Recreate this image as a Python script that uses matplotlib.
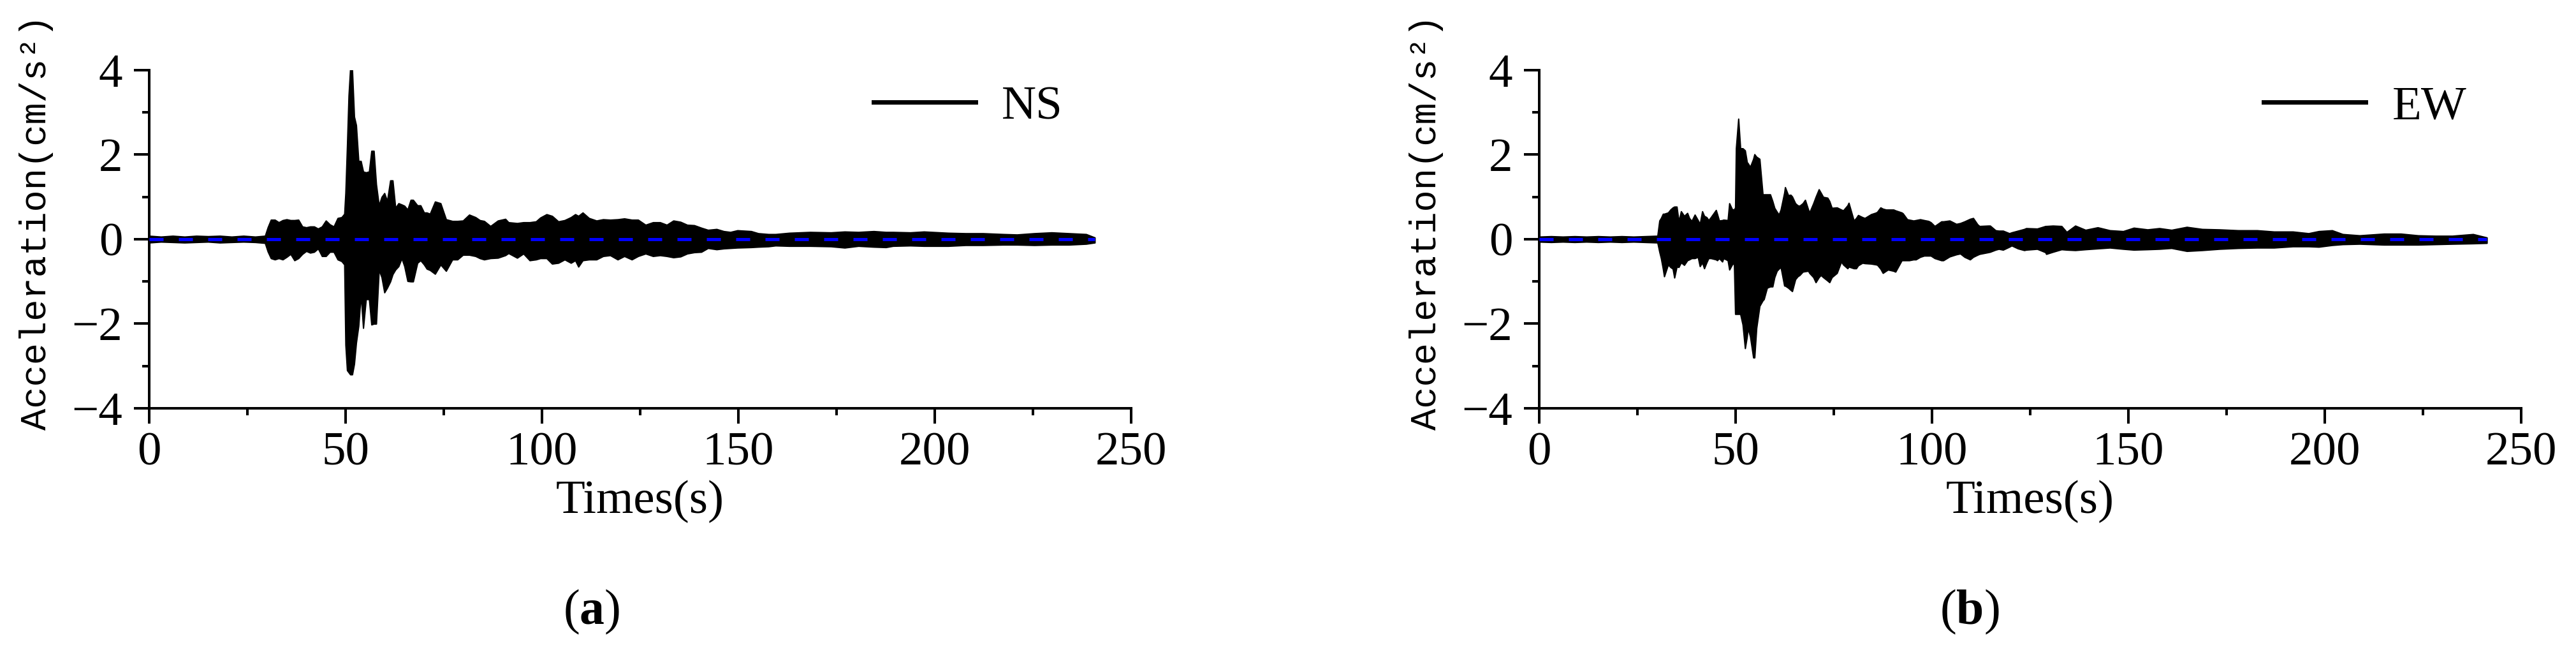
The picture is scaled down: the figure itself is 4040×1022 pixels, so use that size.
import matplotlib.pyplot as plt
from matplotlib.lines import Line2D
from matplotlib.ticker import MultipleLocator


# envelope of the NS record: time (s), upper and lower peaks (cm/s^2)
ns_t = [0, 3, 6, 9, 12, 15, 18, 21, 24, 27, 29.5, 30.2, 31, 32, 33, 34, 35, 36, 37, 38,
        39, 40, 41, 42, 43, 44, 45, 46, 47, 48, 49, 49.7, 50.0, 50.4, 50.8, 51.2, 51.7,
        52.2, 52.7, 53.3, 53.9, 54.5, 55.2, 56.0, 56.6, 57.2, 57.8, 58.5, 59.2, 59.9,
        60.6, 61.4, 62.0, 62.7, 63.5, 64.3, 65.0, 65.8, 66.6, 67.2, 68.3, 69.1, 70.0,
        70.7, 71.5, 72.8, 74.2, 75.6, 77.2, 78.5, 79.9, 81.5, 83.1, 84.2, 85.3, 86.9,
        88.8, 90.7, 91.5, 93.7, 95.3, 96.9, 98.5, 99.6, 101.2, 102.6, 104.2, 105.8,
        107.4, 108.5, 109.3, 110.4, 112.0, 113.9, 115.6, 117.4, 119.3, 121.0, 122.9,
        124.5, 126.4, 128.3, 130.1, 131.8, 133.5, 135.3, 137.0, 138.8, 140.6, 142.3,
        144.5, 146.3, 148.0, 149.8, 153.3, 155.1, 157.7, 159.5, 163.0, 168.3, 173.6,
        177.1, 180.6, 184.5, 187.6, 189.4, 193.8, 197.3, 203.5, 207.9, 212.3, 217.5,
        221.0, 225.4, 229.8, 234.2, 238.6, 240.8]
ns_hi = [0.08, 0.06, 0.08, 0.06, 0.08, 0.07, 0.08, 0.06, 0.08, 0.06, 0.08, 0.28, 0.46,
         0.46, 0.40, 0.45, 0.47, 0.45, 0.45, 0.46, 0.30, 0.28, 0.30, 0.30, 0.25, 0.30,
         0.44, 0.35, 0.30, 0.50, 0.52, 0.60, 1.10, 2.20, 3.40, 4.03, 4.00, 2.90, 2.70,
         1.85, 1.85, 1.60, 1.58, 1.60, 2.09, 2.09, 1.30, 0.80, 1.00, 1.09, 0.90, 1.39,
         1.39, 0.74, 0.85, 0.82, 0.79, 0.70, 0.93, 0.93, 0.80, 0.80, 0.63, 0.63, 0.60,
         0.89, 0.85, 0.47, 0.43, 0.43, 0.44, 0.58, 0.52, 0.45, 0.43, 0.31, 0.44, 0.48,
         0.40, 0.38, 0.40, 0.40, 0.42, 0.51, 0.59, 0.55, 0.42, 0.45, 0.52, 0.59, 0.55,
         0.63, 0.50, 0.44, 0.47, 0.46, 0.47, 0.49, 0.46, 0.46, 0.34, 0.40, 0.40, 0.34,
         0.44, 0.41, 0.34, 0.33, 0.27, 0.22, 0.24, 0.19, 0.17, 0.21, 0.19, 0.14, 0.12,
         0.12, 0.15, 0.17, 0.16, 0.18, 0.17, 0.19, 0.17, 0.17, 0.16, 0.18, 0.15, 0.14,
         0.14, 0.12, 0.11, 0.14, 0.16, 0.14, 0.12, 0.04]
ns_lo = [-0.08, -0.06, -0.07, -0.08, -0.07, -0.06, -0.08, -0.07, -0.06, -0.07, -0.09,
         -0.29, -0.45, -0.48, -0.45, -0.48, -0.42, -0.35, -0.50, -0.45, -0.35, -0.28,
         -0.32, -0.30, -0.22, -0.40, -0.40, -0.30, -0.30, -0.48, -0.52, -0.60, -2.50,
         -3.10, -3.15, -3.20, -3.20, -2.95, -2.45, -2.05, -1.30, -2.10, -1.42, -1.42,
         -2.02, -2.00, -2.00, -0.72, -0.90, -1.26, -1.15, -1.00, -0.83, -0.72, -0.64,
         -0.45, -0.64, -0.99, -1.00, -1.00, -0.56, -0.50, -0.60, -0.70, -0.73, -0.82,
         -0.60, -0.75, -0.48, -0.48, -0.37, -0.37, -0.40, -0.45, -0.48, -0.45, -0.44,
         -0.38, -0.33, -0.44, -0.34, -0.50, -0.48, -0.45, -0.45, -0.58, -0.56, -0.48,
         -0.56, -0.50, -0.65, -0.50, -0.48, -0.48, -0.40, -0.38, -0.48, -0.40, -0.48,
         -0.40, -0.34, -0.40, -0.38, -0.40, -0.43, -0.41, -0.34, -0.31, -0.30, -0.21,
         -0.24, -0.22, -0.21, -0.20, -0.19, -0.18, -0.17, -0.15, -0.16, -0.16, -0.17,
         -0.20, -0.16, -0.18, -0.19, -0.16, -0.15, -0.16, -0.16, -0.14, -0.14, -0.13,
         -0.13, -0.14, -0.13, -0.13, -0.11, -0.08]

# envelope of the EW record
ew_t = [0, 3, 6, 9, 12, 15, 18, 21, 24, 27, 30.1, 30.6, 31.0, 31.5, 31.8, 32.8, 33.4,
        34.0, 34.4, 35.0, 35.5, 36.1, 36.9, 37.7, 38.2, 38.8, 39.6, 40.4, 40.9, 41.5,
        42.0, 42.6, 43.1, 43.7, 45.0, 45.3, 45.8, 46.6, 46.9, 48.0, 48.4, 49.1, 49.6,
        49.9, 50.1, 50.7, 51.2, 51.8, 52.4, 52.9, 53.1, 53.7, 54.5, 54.8, 55.3, 56.1,
        56.9, 57.2, 58.0, 58.8, 59.4, 59.9, 60.5, 61.0, 61.5, 62.4, 62.6, 63.4, 64.0,
        64.4, 65.2, 65.8, 66.3, 67.1, 67.7, 68.5, 68.8, 69.8, 70.4, 71.2, 71.7, 72.3,
        73.4, 73.9, 74.5, 75.8, 76.9, 77.4, 78.5, 78.8, 80.1, 80.7, 81.2, 82.3, 82.9,
        84.5, 85.8, 86.1, 86.9, 87.5, 88.3, 88.8, 90.2, 90.7, 92.3, 92.6, 93.7, 94.2,
        95.3, 95.9, 97.0, 98.0, 99.1, 99.7, 100.7, 102.4, 102.9, 104.5, 106.2, 107.2,
        108.3, 109.7, 110.5, 111.6, 112.1, 114.3, 114.8, 116.2, 117.0, 118.1, 119.7,
        120.3, 121.9, 123.5, 124.0, 126.8, 128.9, 129.1, 130.8, 133.0, 134.3, 136.5,
        139.1, 142.2, 145.3, 148.7, 151.4, 154.9, 157.9, 161.0, 164.9, 168.8, 173.2,
        178.0, 182.8, 187.1, 191.9, 195.9, 198.5, 201.9, 204.6, 208.9, 215.1, 219.4,
        223.8, 228.2, 232.5, 237.8, 241.3]
ew_hi = [0.06, 0.07, 0.06, 0.07, 0.06, 0.07, 0.06, 0.07, 0.06, 0.07, 0.08, 0.44, 0.50,
         0.60, 0.60, 0.63, 0.70, 0.75, 0.77, 0.77, 0.42, 0.66, 0.55, 0.62, 0.50, 0.43,
         0.58, 0.45, 0.36, 0.66, 0.55, 0.52, 0.45, 0.52, 0.69, 0.60, 0.44, 0.45, 0.46,
         0.45, 0.85, 0.71, 0.70, 0.75, 2.15, 2.85, 2.15, 2.15, 2.10, 1.82, 1.80, 1.71,
         1.90, 2.01, 1.95, 1.90, 1.06, 1.06, 1.06, 1.06, 0.90, 0.74, 0.65, 0.58, 0.70,
         1.10, 1.23, 1.04, 1.05, 1.01, 0.85, 0.80, 0.79, 0.85, 0.93, 0.70, 0.63, 0.85,
         1.00, 1.18, 1.10, 1.00, 0.98, 0.90, 0.74, 0.75, 0.70, 0.68, 0.80, 0.86, 0.44,
         0.50, 0.57, 0.52, 0.50, 0.59, 0.63, 0.65, 0.75, 0.72, 0.70, 0.70, 0.70, 0.68,
         0.63, 0.61, 0.47, 0.46, 0.44, 0.45, 0.47, 0.45, 0.43, 0.40, 0.31, 0.42, 0.42,
         0.44, 0.36, 0.38, 0.42, 0.48, 0.50, 0.35, 0.31, 0.32, 0.32, 0.21, 0.20, 0.20,
         0.14, 0.16, 0.20, 0.24, 0.26, 0.25, 0.31, 0.31, 0.32, 0.31, 0.17, 0.32, 0.22,
         0.28, 0.21, 0.19, 0.27, 0.23, 0.26, 0.22, 0.29, 0.24, 0.23, 0.21, 0.21, 0.18,
         0.18, 0.14, 0.19, 0.21, 0.12, 0.09, 0.13, 0.13, 0.09, 0.08, 0.08, 0.12, 0.04]
ew_lo = [-0.06, -0.07, -0.06, -0.07, -0.06, -0.07, -0.06, -0.07, -0.06, -0.07, -0.08,
         -0.30, -0.45, -0.70, -0.88, -0.60, -0.66, -0.70, -0.91, -0.65, -0.66, -0.55,
         -0.61, -0.50, -0.48, -0.45, -0.45, -0.42, -0.64, -0.55, -0.69, -0.55, -0.45,
         -0.45, -0.48, -0.50, -0.45, -0.53, -0.45, -0.50, -0.72, -0.60, -0.56, -1.77,
         -1.77, -1.77, -1.77, -2.02, -2.58, -2.30, -2.10, -2.30, -2.80, -2.80, -2.10,
         -1.58, -1.45, -1.42, -1.15, -1.12, -1.12, -0.90, -0.75, -0.70, -0.66, -1.10,
         -1.10, -1.15, -1.20, -1.23, -0.95, -0.88, -0.85, -0.77, -0.76, -0.75, -0.80,
         -0.90, -1.02, -0.90, -0.85, -0.90, -0.98, -1.02, -0.90, -0.80, -0.53, -0.60,
         -0.69, -0.65, -0.69, -0.69, -0.62, -0.56, -0.57, -0.58, -0.60, -0.61, -0.70,
         -0.80, -0.75, -0.72, -0.75, -0.77, -0.50, -0.50, -0.50, -0.50, -0.48, -0.48,
         -0.42, -0.39, -0.39, -0.39, -0.45, -0.50, -0.50, -0.41, -0.36, -0.34, -0.42,
         -0.48, -0.42, -0.37, -0.35, -0.31, -0.30, -0.25, -0.23, -0.25, -0.18, -0.15,
         -0.22, -0.26, -0.25, -0.23, -0.31, -0.35, -0.30, -0.24, -0.25, -0.26, -0.24,
         -0.22, -0.20, -0.23, -0.25, -0.24, -0.23, -0.21, -0.28, -0.26, -0.23, -0.21,
         -0.20, -0.20, -0.17, -0.17, -0.18, -0.14, -0.12, -0.11, -0.13, -0.13, -0.13,
         -0.12, -0.11, -0.10, -0.09]

panels = [(ns_t, ns_hi, ns_lo, 'NS', '(', 'a', ')'),
          (ew_t, ew_hi, ew_lo, 'EW', '(', 'b', ')')]

plt.rcParams['mathtext.fontset'] = 'custom'
plt.rcParams['mathtext.rm'] = 'Liberation Serif'
plt.rcParams['mathtext.bf'] = 'Liberation Serif:bold'

fig = plt.figure(figsize=(40.41, 10.22), dpi=100)
lefts = [0.0579, 0.5974]
caption_x = [0.2296, 0.7644]

for i, (t, hi, lo, name, p1, letter, p2) in enumerate(panels):
    ax = fig.add_axes([lefts[i], 0.3738, 0.381, 0.5186])
    ax.fill_between(t, lo, hi, color='black', lw=1.5)
    ax.hlines(0, t[0], t[-1], colors='blue', lw=3.6,
              linestyles=(0, (4.4, 4.8)), zorder=3)

    ax.set_xlim(0, 250)
    ax.set_ylim(-4, 4)
    ax.xaxis.set_major_locator(MultipleLocator(50))
    ax.xaxis.set_minor_locator(MultipleLocator(25))
    ax.yaxis.set_major_locator(MultipleLocator(2))
    ax.yaxis.set_minor_locator(MultipleLocator(1))

    for side in ['top', 'right']:
        ax.spines[side].set_visible(False)
    for side in ['left', 'bottom']:
        ax.spines[side].set_linewidth(2.9)

    ax.tick_params(which='major', direction='out', length=17, width=2.9)
    ax.tick_params(which='minor', direction='out', length=8, width=2.9)
    ax.tick_params(axis='x', which='major', pad=10)
    ax.tick_params(axis='y', which='major', pad=13)
    for lab in ax.get_xticklabels() + ax.get_yticklabels():
        lab.set_fontfamily('Liberation Serif')
        lab.set_fontsize(54)

    ax.set_xlabel('Times(s)', fontfamily='Liberation Serif', fontsize=54,
                  va='center')
    ax.xaxis.set_label_coords(0.5, -0.277)
    ax.set_ylabel('Acceleration(cm/s²)', fontfamily='Liberation Mono',
                  fontsize=41, va='center')
    ax.yaxis.set_label_coords(-0.115, 0.55)

    handle = Line2D([], [], color='black', lw=5)
    ax.legend([handle], [name], loc='center left', bbox_to_anchor=(0.738, 0.89),
              frameon=False, borderpad=0, borderaxespad=0, handlelength=2.13,
              handletextpad=0.55, prop={'family': 'Liberation Serif', 'size': 54})

    fig.text(caption_x[i], 0.0616, p1 + r'$\mathbf{' + letter + '}$' + p2,
             fontfamily='Liberation Serif', fontsize=56, ha='center', va='center')

fig.savefig('out.png', dpi=100)
